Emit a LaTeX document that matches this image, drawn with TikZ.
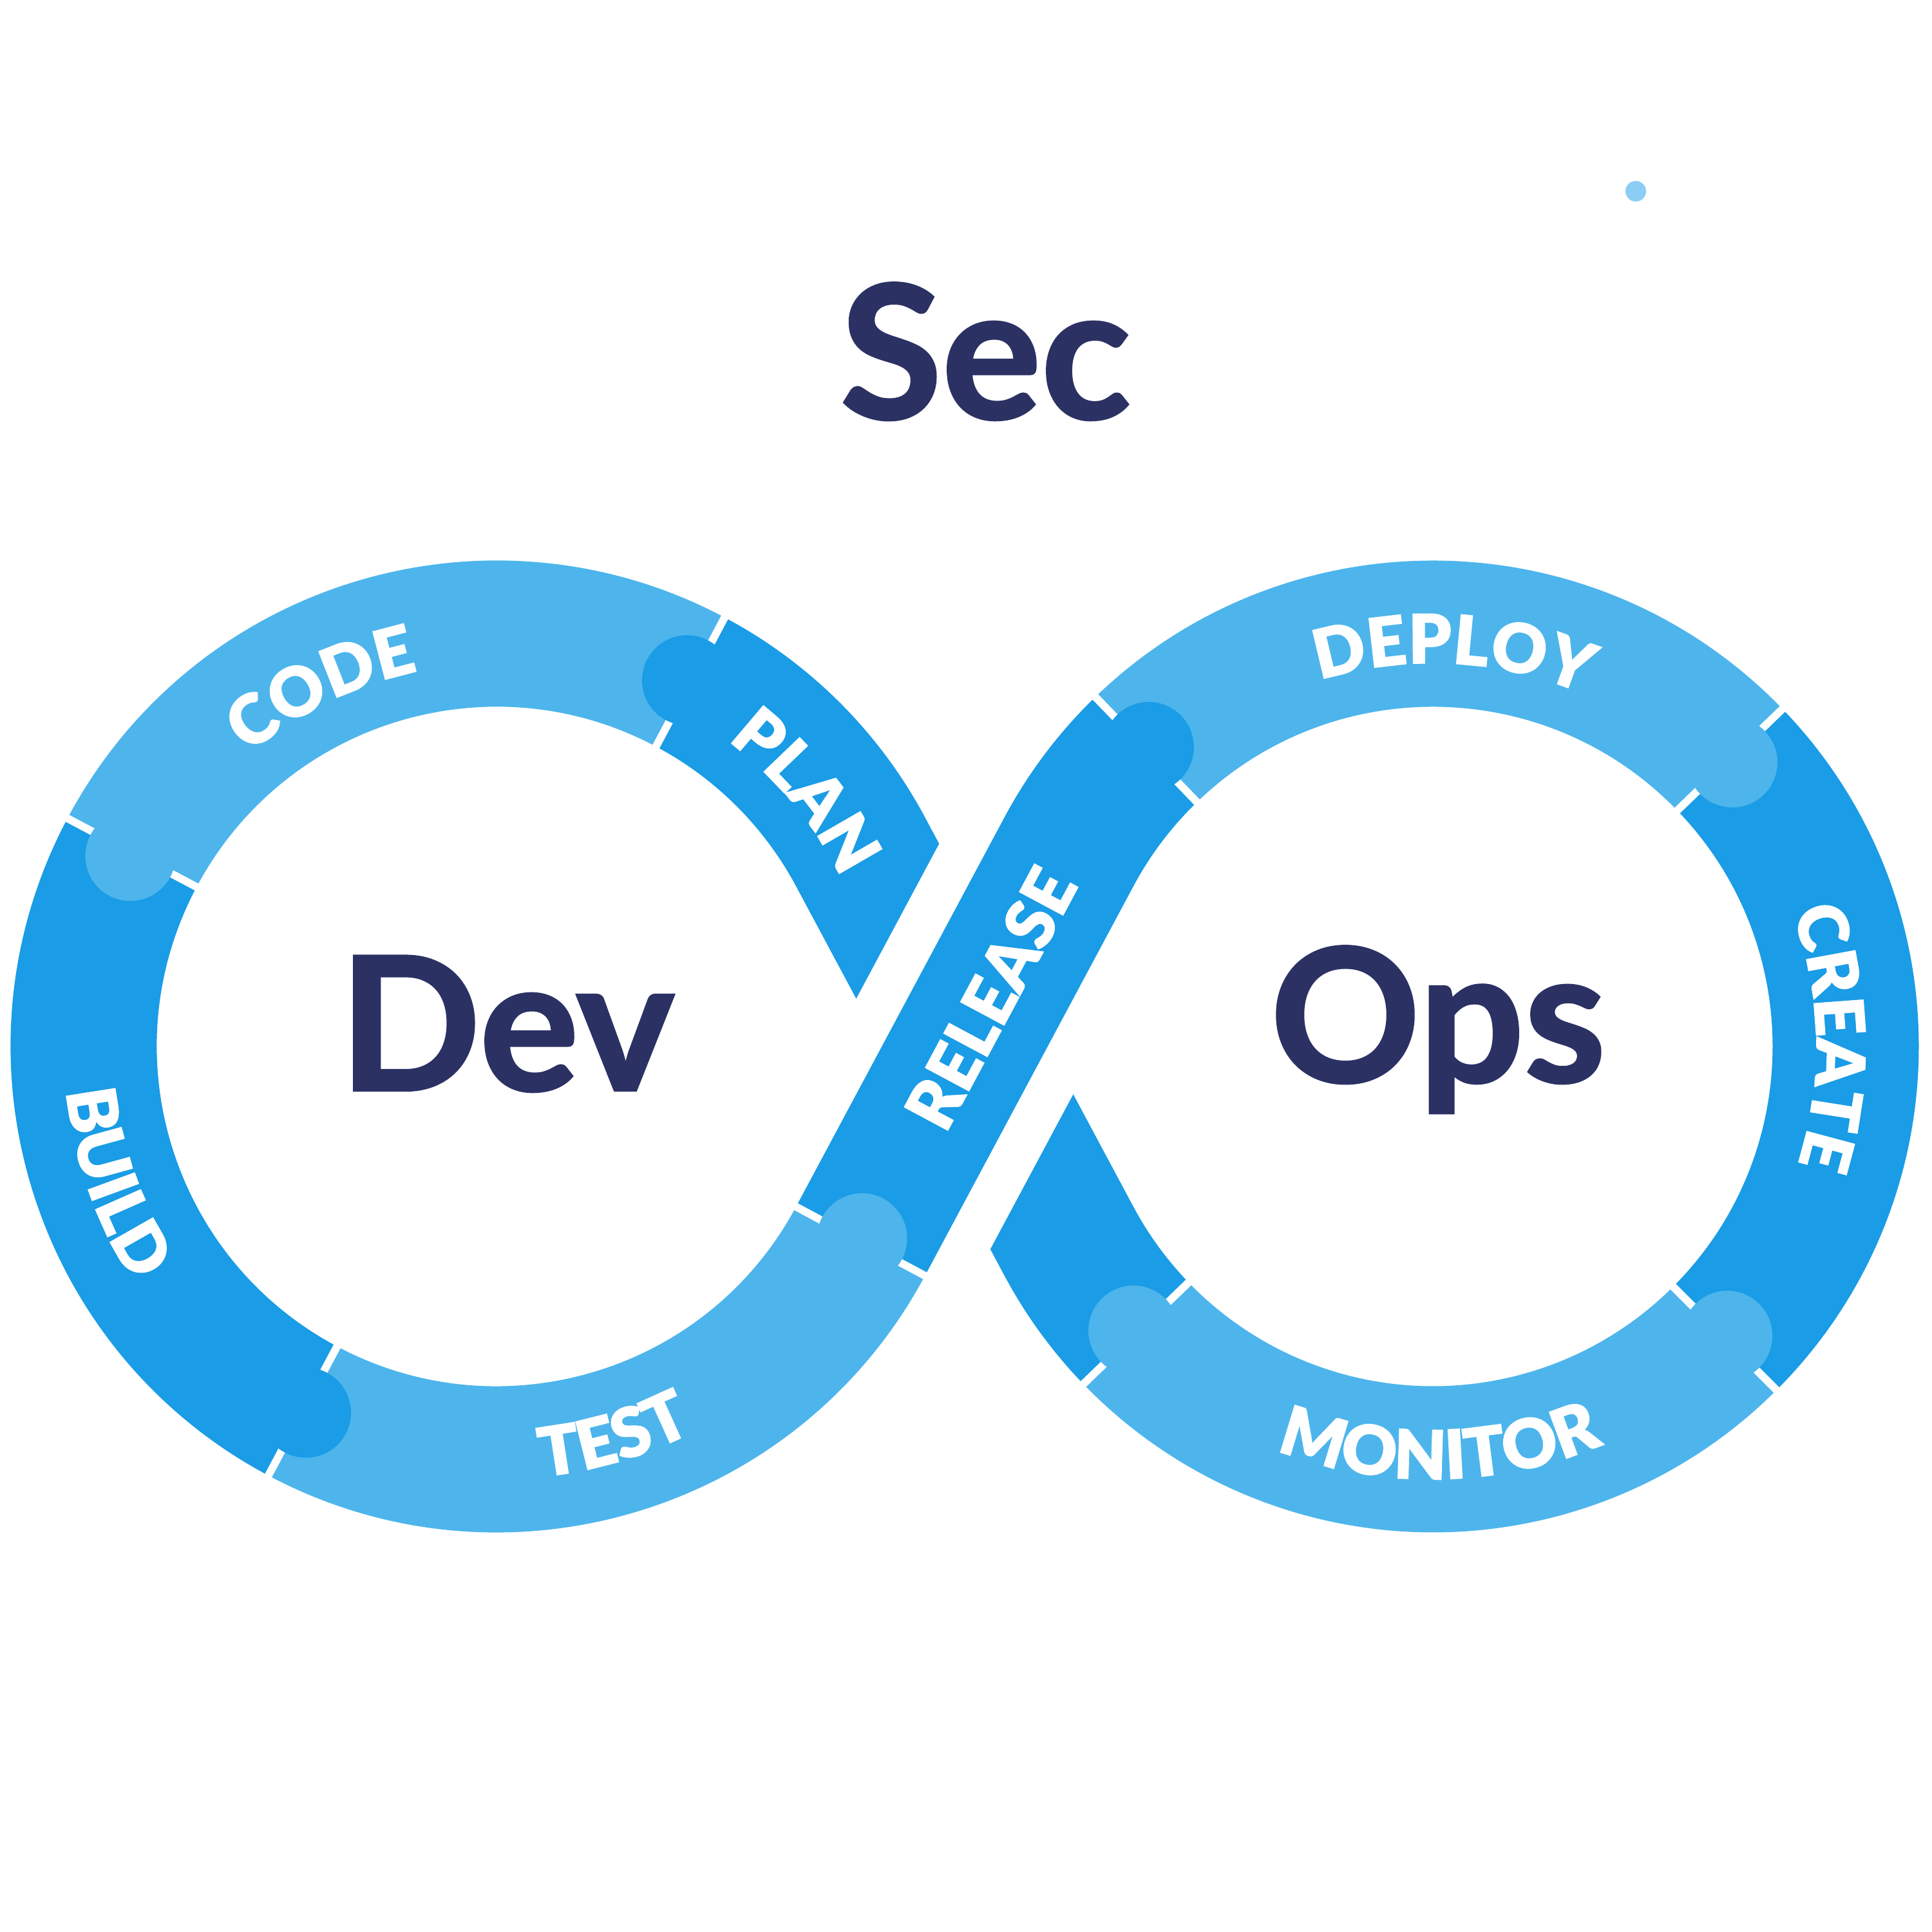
\documentclass[tikz,border=0pt]{standalone}
\usepackage{fontspec}
\setmainfont{Lato}[BoldFeatures={FakeBold=1.5}]
\IfFontExistsTF{Lato Black}{\newfontfamily\labfam{Lato Black}[FakeBold=1.2]}{\newfontfamily\labfam{Lato}[FakeBold=3]}
\usetikzlibrary{calc, decorations.text}

\definecolor{navy}{HTML}{2C3164}
\definecolor{bluedark}{HTML}{1A9CE6}
\definecolor{bluelight}{HTML}{4DB5EC}
\definecolor{bluedot}{HTML}{8CCDF5}
\newcommand\labfont{\labfam\fontsize{30}{30}\selectfont}

\begin{document}
\begin{tikzpicture}
\tikzstyle{band}=[line width=2.27cm, line join=round]
\tikzstyle{dark}=[band, draw=bluedark]
\tikzstyle{light}=[band, draw=bluelight]
\tikzstyle{gap}=[line width=0.12cm, draw=white]
\tikzstyle{title}=[text=navy, font=\fontsize{82}{82}\selectfont\bfseries, anchor=base]
\tikzstyle{tag}=[decorate, decoration={text along path, text={|\labfont|#1}, text align=center, text color=white}]
    \useasboundingbox (0,0) rectangle (30,30);
    \fill[white] (0,0) rectangle (30,30);
    \coordinate (CL) at (7.71,13.75);
    \coordinate (CR) at (22.25,13.75);
    \coordinate (M) at (14.98,13.75);
    \coordinate (T1) at ($(CL)+(28.15:6.41)$);
    \coordinate (T2) at ($(CL)+(-28.15:6.41)$);
    \coordinate (T3) at ($(CR)+(151.85:6.41)$);
    \coordinate (T4) at ($(CR)+(208.15:6.41)$);
    \draw[dark] ($(CL)+(62:6.41)$) arc[start angle=62, end angle=28.15, radius=6.41] -- (T4) arc[start angle=208.15, end angle=224, radius=6.41];
    \draw[line width=3.67cm, white] ($(M)!3cm!(T2)$) -- ($(M)!3cm!(T3)$);
    \draw[dark] (T2) -- (T3) arc[start angle=151.85, end angle=134, radius=6.41];
    \draw[light] ($(CL)+(62:6.41)$) arc[start angle=62, end angle=152, radius=6.41];
    \draw[dark] ($(CL)+(152:6.41)$) arc[start angle=152, end angle=242, radius=6.41];
    \draw[light] ($(CL)+(242:6.41)$) arc[start angle=242, end angle=331.85, radius=6.41];
    \draw[light] ($(CR)+(134:6.41)$) arc[start angle=134, end angle=44, radius=6.41];
    \draw[dark] ($(CR)+(44:6.41)$) arc[start angle=44, end angle=-45, radius=6.41];
    \draw[light] ($(CR)+(-45:6.41)$) arc[start angle=-45, end angle=-136, radius=6.41];
    \draw[gap] ($(CL)+(62:5.1)$) -- ($(CL)+(62:7.7)$);
    \draw[gap] ($(CL)+(152:5.1)$) -- ($(CL)+(152:7.7)$);
    \draw[gap] ($(CL)+(242:5.1)$) -- ($(CL)+(242:7.7)$);
    \draw[gap] ($(CL)+(331.85:5.1)$) -- ($(CL)+(331.85:7.7)$);
    \draw[gap] ($(CR)+(134:5.1)$) -- ($(CR)+(134:7.7)$);
    \draw[gap] ($(CR)+(44:5.1)$) -- ($(CR)+(44:7.7)$);
    \draw[gap] ($(CR)+(-45:5.1)$) -- ($(CR)+(-45:7.7)$);
    \draw[gap] ($(CR)+(-136:5.1)$) -- ($(CR)+(-136:7.7)$);
    \fill[bluedark] ($(CL)+(62.5:6.41)$) circle (0.70);
    \fill[bluelight] ($(CL)+(152.5:6.41)$) circle (0.70);
    \fill[bluedark] ($(CL)+(242.5:6.41)$) circle (0.70);
    \fill[bluelight] ($(CL)+(332.3:6.41)$) circle (0.70);
    \fill[bluedark] ($(CR)+(133.5:6.41)$) circle (0.70);
    \fill[bluelight] ($(CR)+(43.5:6.41)$) circle (0.70);
    \fill[bluelight] ($(CR)+(-44.5:6.41)$) circle (0.70);
    \fill[bluelight] ($(CR)+(-136.5:6.41)$) circle (0.70);
    \path[tag=CODE] ($(CL)+(146:5.95)$) arc[start angle=146, end angle=86, radius=5.95];
    \path[tag=PLAN] ($(CL)+(69.5:5.95)$) arc[start angle=69.5, end angle=9.5, radius=5.95];
    \path[tag=BUILD] ($(CL)+(169.5:6.72)$) arc[start angle=169.5, end angle=229.5, radius=6.72];
    \path[tag=TEST] ($(CL)+(-103.4:6.72)$) arc[start angle=-103.4, end angle=-43.4, radius=6.72];
    \path[tag=DEPLOY] ($(CR)+(117:5.95)$) arc[start angle=117, end angle=57, radius=5.95];
    \path[tag=CREATE] ($(CR)+(31.3:5.95)$) arc[start angle=31.3, end angle=-28.7, radius=5.95];
    \path[tag=MONITOR] ($(CR)+(-119:6.72)$) arc[start angle=-119, end angle=-59, radius=6.72];
    \node[rotate=61.85, text=white, font=\labfont] (release) at ($(M)!0.85cm!(T3)$) {RELEASE};
    \node[title] (sec) at (15.30,23.50) {Sec};
    \node[title] (dev) at (7.87,13.07) {Dev};
    \node[title] (ops) at (22.33,13.20) {Ops};
    \fill[bluedot] (25.40,27.03) circle (0.16);
\end{tikzpicture}
\end{document}
